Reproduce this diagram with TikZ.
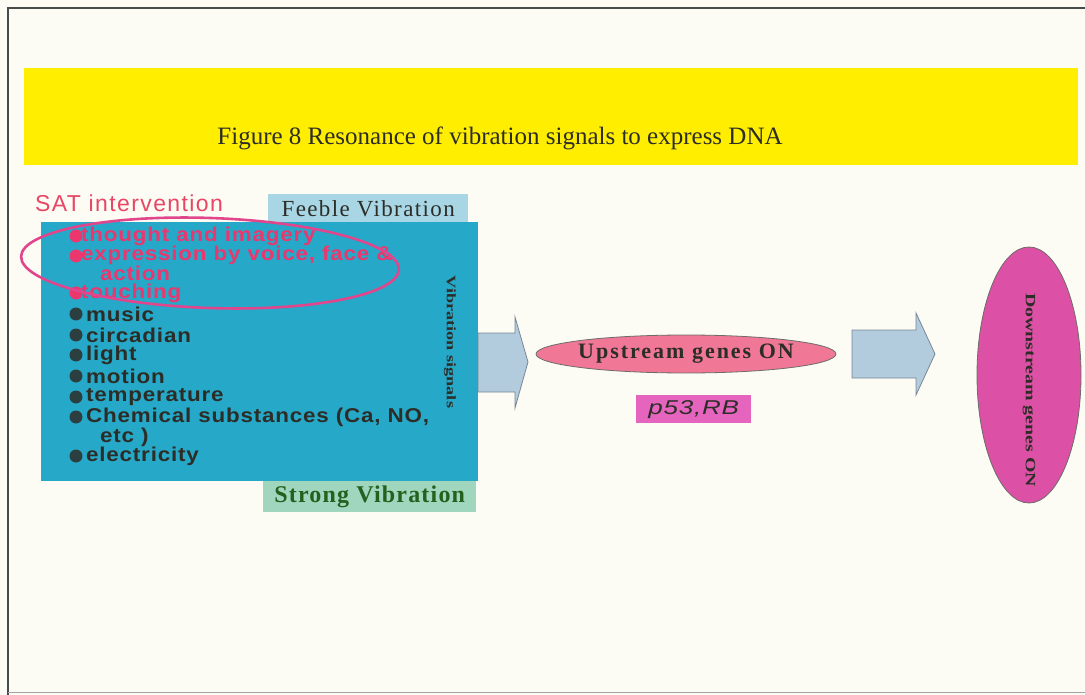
\documentclass[tikz,border=0pt]{standalone}
\usepackage{fontspec}
\setmainfont{Liberation Serif}
\setsansfont{Liberation Sans}
\newfontfamily\itemfont[FakeStretch=1.12,LetterSpace=4]{Liberation Sans Bold}
\newfontfamily\spacedserif[LetterSpace=6]{Liberation Serif}
\newfontfamily\spacedserifbold[LetterSpace=5]{Liberation Serif Bold}
\newfontfamily\widespacedserifbold[LetterSpace=9]{Liberation Serif Bold}
\newfontfamily\stretchserifbold[FakeStretch=1.4]{Liberation Serif Bold}
\newfontfamily\widesansit[FakeStretch=1.3,LetterSpace=4]{Liberation Sans Italic}
\newfontfamily\satfont[LetterSpace=6]{Liberation Sans}
\usetikzlibrary{shapes.geometric}
\definecolor{bgc}{RGB}{252,252,244}
\definecolor{bandc}{RGB}{255,238,0}
\definecolor{tealc}{RGB}{38,168,200}
\definecolor{feeblec}{RGB}{168,214,228}
\definecolor{strongc}{RGB}{160,214,190}
\definecolor{pinktext}{RGB}{235,55,110}
\definecolor{satc}{RGB}{232,70,100}
\definecolor{ringc}{RGB}{225,70,140}
\definecolor{arrowc}{RGB}{178,204,222}
\definecolor{arrowd}{RGB}{120,135,150}
\definecolor{upc}{RGB}{240,120,150}
\definecolor{p53c}{RGB}{228,100,190}
\definecolor{downc}{RGB}{220,80,165}
\definecolor{darktext}{RGB}{45,45,40}
\definecolor{framec}{RGB}{70,75,75}
\tikzset{
  itm/.style={anchor=west,inner sep=0pt,font=\itemfont\fontsize{20}{21}\selectfont},
  pinkitem/.style={itm,text=pinktext},
  darkitem/.style={itm,text=darktext},
  pinkbul/.style={circle,fill=pinktext,inner sep=0pt,minimum size=13pt},
  darkbul/.style={circle,fill=darktext!85!tealc,inner sep=0pt,minimum size=13pt},
  blockarrow/.style={fill=arrowc,draw=arrowd,line width=0.8pt,line join=miter},
}
\begin{document}
\begin{tikzpicture}[x=1pt,y=-1pt]
\useasboundingbox (0,0) rectangle (1085,695);
\fill[bgc] (0,0) rectangle (1085,695);
% frame
\draw[framec,line width=1.2pt] (8,695) -- (8,8) -- (1085,8);
\draw[framec!50,line width=1pt] (8,692) -- (1085,692);
% title band
\fill[bandc] (24,68) rectangle (1078,165);
\node[font=\fontsize{25}{28}\selectfont,text=darktext] (title) at (500,138) {Figure 8 Resonance of vibration signals to express DNA};
% SAT intervention
\node[font=\satfont\fontsize{23}{24}\selectfont,text=satc,anchor=west,inner sep=0pt] (sat) at (35,203) {SAT intervention};
% feeble
\node[fill=feeblec,minimum width=200pt,minimum height=28pt,inner sep=0pt,anchor=north west,font=\spacedserif\fontsize{23}{24}\selectfont,text=darktext] (feeble) at (268,194) {Feeble Vibration};
% main box
\node[fill=tealc,minimum width=437pt,minimum height=259pt,inner sep=0pt,anchor=north west] (box) at (41,222) {};
% strong
\node[fill=strongc,minimum width=213pt,minimum height=31pt,inner sep=0pt,anchor=north west,font=\spacedserifbold\fontsize{24}{25}\selectfont,text=darktext!75!green] (strong) at (263,481) {Strong Vibration};
% vertical label
\node[rotate=-90,font=\stretchserifbold\fontsize{13}{14}\selectfont,text=darktext] (vib) at (450,342) {Vibration signals};
% bullets
\node[pinkbul] (b1) at (76,236) {};
\node[pinkbul] (b2) at (76,256) {};
\node[pinkbul] (b3) at (76,293) {};
\node[darkbul] (b4) at (76,314) {};
\node[darkbul] (b5) at (76,335) {};
\node[darkbul] (b6) at (76,355) {};
\node[darkbul] (b7) at (76,376) {};
\node[darkbul] (b8) at (76,397) {};
\node[darkbul] (b9) at (76,417) {};
\node[darkbul] (b10) at (76,456) {};
% items
\node[pinkitem] (i1) at (81,236) {thought and imagery};
\node[pinkitem] (i2) at (81,255) {expression by voice, face \&};
\node[pinkitem] (i2b) at (100,273) {action};
\node[pinkitem] (i3) at (81,293) {touching};
\node[darkitem] (i4) at (86,314) {music};
\node[darkitem] (i5) at (86,335) {circadian};
\node[darkitem] (i6) at (86,355) {light};
\node[darkitem] (i7) at (86,376) {motion};
\node[darkitem] (i8) at (86,397) {temperature};
\node[darkitem] (i9) at (86,417) {Chemical substances (Ca, NO,};
\node[darkitem] (i9b) at (100,437) {etc )};
\node[darkitem] (i10) at (86,456) {electricity};
% SAT ring
\node[draw=ringc,line width=2.6pt,ellipse,minimum width=378pt,minimum height=90pt,rotate=-2] (ring) at (210,263) {};
% upstream
\node[ellipse,fill=upc,draw=darktext!70,line width=0.8pt,minimum width=300pt,minimum height=38pt,inner sep=0pt] (up) at (686,354) {};
\node[font=\widespacedserifbold\fontsize{22}{23}\selectfont,text=darktext,inner sep=0pt] (uplbl) at (up.center) {Upstream genes ON};
\node[fill=p53c,minimum width=115pt,minimum height=28pt,inner sep=0pt,anchor=north west,font=\widesansit\fontsize{20}{21}\selectfont,text=darktext] (p53) at (636,395) {p53,RB};
% downstream
\node[ellipse,fill=downc,draw=darktext!70,line width=0.8pt,minimum width=104pt,minimum height=256pt,inner sep=0pt] (down) at (1029,375) {};
\node[rotate=-90,font=\stretchserifbold\fontsize{14.2}{16}\selectfont,text=darktext] (downlbl) at (1029,390) {Downstream genes ON};
% block arrows
\draw[blockarrow] (478,333) -- (515,333) -- (515,317) -- (528,362) -- (515,408) -- (515,392) -- (478,392) -- cycle;
\draw[blockarrow] (852,330) -- (916,330) -- (916,313) -- (935,354) -- (916,395) -- (916,378) -- (852,378) -- cycle;
\end{tikzpicture}
\end{document}
